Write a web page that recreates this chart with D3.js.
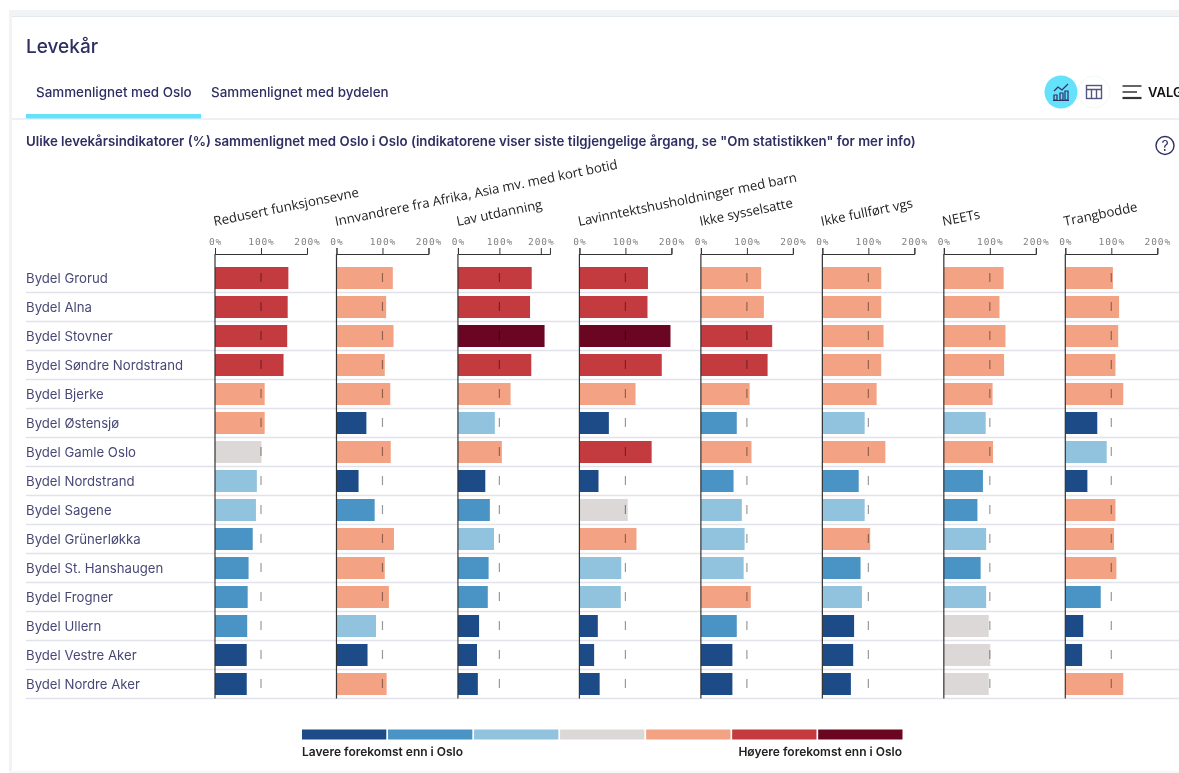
<!DOCTYPE html>
<html>
<head>
<meta charset="utf-8">
<script src="https://cdn.jsdelivr.net/npm/d3@7"></script>
<style>
    html, body { margin: 0; padding: 0; background: #fff; overflow: hidden; }
    svg { display: block; filter: blur(0.35px); }
    .ui { font-family: "Inter", sans-serif; fill: #2e2e62; }
    .indicator { font-family: "Open Sans", sans-serif; font-size: 13.2px; fill: #222; }
    .axis text { font-family: "DejaVu Sans Mono", monospace; font-size: 9.5px; fill: #808080; letter-spacing: 0.9px; }
    .axis path, .axis line { stroke: #333; }
</style>
</head>
<body>
<div id="chart"></div>
<script>
const districts = ["Bydel Grorud", "Bydel Alna", "Bydel Stovner", "Bydel Søndre Nordstrand", "Bydel Bjerke",
    "Bydel Østensjø", "Bydel Gamle Oslo", "Bydel Nordstrand", "Bydel Sagene", "Bydel Grünerløkka",
    "Bydel St. Hanshaugen", "Bydel Frogner", "Bydel Ullern", "Bydel Vestre Aker", "Bydel Nordre Aker"];

const indicators = ["Redusert funksjonsevne", "Innvandrere fra Afrika, Asia mv. med kort botid", "Lav utdanning",
    "Lavinntektshusholdninger med barn", "Ikke sysselsatte", "Ikke fullført vgs", "NEETs", "Trangbodde"];

const tickValues = [0, 100, 200];

// each panel is 200% wide except Lav utdanning, which runs a bit past
const axisMax = [200, 200, 222, 200, 200, 200, 200, 200];

const values = [
    [159.5, 158, 157, 149, 108, 108, 101, 91, 89, 82, 73, 71, 70, 69, 69],
    [122.5, 108, 124, 105, 117, 65, 118, 48, 83, 125, 105, 114, 86, 67.5, 109],
    [178, 174, 209, 177, 127, 89, 106, 66, 77, 87, 74, 72, 51, 46, 48],
    [149, 148, 198, 179, 122, 64, 157, 41.5, 105, 124, 91, 90, 40, 32, 44],
    [131, 137, 155, 145, 106, 78, 110, 71, 89, 95, 93, 108.5, 78, 68.5, 68.5],
    [128, 128, 133, 128, 118, 92, 137, 79, 92, 104, 83, 86, 69, 67, 62],
    [130, 121, 134, 131, 106, 91, 107, 85, 73, 92, 80, 92, 97.5, 101, 97.5],
    [103.5, 117, 115, 109, 126, 69.5, 90, 48, 109, 106, 111, 77, 39, 36.5, 126]
];

// colour class per bar, 0 = much lower than Oslo, 6 = much higher
const classes = [
    [5, 5, 5, 5, 4, 4, 3, 2, 2, 1, 1, 1, 1, 0, 0],
    [4, 4, 4, 4, 4, 0, 4, 0, 1, 4, 4, 4, 2, 0, 4],
    [5, 5, 6, 5, 4, 2, 4, 0, 1, 2, 1, 1, 0, 0, 0],
    [5, 5, 6, 5, 4, 0, 5, 0, 3, 4, 2, 2, 0, 0, 0],
    [4, 4, 5, 5, 4, 1, 4, 1, 2, 2, 2, 4, 1, 0, 0],
    [4, 4, 4, 4, 4, 2, 4, 1, 2, 4, 1, 2, 0, 0, 0],
    [4, 4, 4, 4, 4, 2, 4, 1, 1, 2, 1, 2, 3, 3, 3],
    [4, 4, 4, 4, 4, 0, 2, 0, 4, 4, 4, 1, 0, 0, 4]
];

const palette = ["#1c4b87", "#4a93c5", "#91c3df", "#dbd8d7", "#f3a384", "#c33b3e", "#6a0622"];
const legendLabels = ["Lavere forekomst enn i Oslo", "Høyere forekomst enn i Oslo"];

const width = 1179, height = 773;

const svg = d3.select('#chart')
    .append('svg')
    .attr('width', width)
    .attr('height', height);

// page chrome
svg.append('rect').attr('x', 9).attr('y', 10).attr('width', width).attr('height', 6).attr('fill', '#f2f3f5');
svg.append('rect').attr('x', 9).attr('y', 10).attr('width', 3).attr('height', height).attr('fill', '#f2f3f5');
svg.append('rect').attr('x', 12).attr('y', 16).attr('width', width).attr('height', 1).attr('fill', '#e4e9ee');
svg.append('rect').attr('x', 9).attr('y', 771).attr('width', width).attr('height', 2).attr('fill', '#f6f7f8');

svg.append('text').attr('class', 'ui').attr('x', 26).attr('y', 53)
    .attr('font-size', 19).attr('font-weight', 500).text('Levekår');

svg.append('text').attr('class', 'ui').attr('x', 36).attr('y', 97)
    .attr('font-size', 13.4).attr('font-weight', 500).text('Sammenlignet med Oslo');
svg.append('text').attr('class', 'ui').attr('x', 211).attr('y', 97)
    .attr('font-size', 13.4).attr('font-weight', 500).text('Sammenlignet med bydelen');

svg.append('rect').attr('x', 12).attr('y', 118).attr('width', width).attr('height', 2).attr('fill', '#eef1f3');
svg.append('rect').attr('x', 26).attr('y', 114).attr('width', 175).attr('height', 4.5).attr('fill', '#64e1fb');

svg.append('text').attr('class', 'ui').attr('x', 26).attr('y', 146)
    .attr('font-size', 13.25).attr('font-weight', 600)
    .text('Ulike levekårsindikatorer (%) sammenlignet med Oslo i Oslo (indikatorene viser siste tilgjengelige årgang, se "Om statistikken" for mer info)');

// view switch icons
svg.append('circle').attr('cx', 1061).attr('cy', 92).attr('r', 16.5).attr('fill', '#64e1fb');
svg.append('circle').attr('cx', 1094).attr('cy', 92).attr('r', 16).attr('fill', 'none').attr('stroke', '#f0f8fb');
const chartIcon = svg.append('g').attr('transform', 'translate(1061, 92)')
    .attr('fill', 'none').attr('stroke', '#2e2e62').attr('stroke-width', 1.2);
chartIcon.append('path').attr('d', 'M-7 -1L-3 -5L1 -2L7 -8');
chartIcon.append('path').attr('d', 'M-7 3h3v5h-3zM-1 1h3v7h-3zM4 -1h3v9h-3zM-8 8.5h16');

const tableIcon = svg.append('g').attr('transform', 'translate(1094, 92)')
    .attr('fill', 'none').attr('stroke', '#55557f').attr('stroke-width', 1.4);
tableIcon.append('rect').attr('x', -7.5).attr('y', -6.5).attr('width', 15).attr('height', 13);
tableIcon.append('path').attr('d', 'M-7.5 -2.5H7.5M-2.5 -2.5V6.5M2.5 -2.5V6.5');

svg.append('path').attr('d', 'M1122.5 86H1141.5M1122.5 92H1137')
    .attr('stroke', '#333').attr('stroke-width', 1.6);
svg.append('path').attr('d', 'M1122.5 98H1141.5')
    .attr('stroke', '#333').attr('stroke-width', 2.2);
svg.append('text').attr('x', 1148).attr('y', 97).attr('font-family', 'Inter, sans-serif')
    .attr('font-size', 13).attr('font-weight', 600).attr('fill', '#111').text('VALG');

svg.append('circle').attr('cx', 1165).attr('cy', 145.5).attr('r', 9)
    .attr('fill', 'none').attr('stroke', '#2e2e62').attr('stroke-width', 1.4);
svg.append('text').attr('class', 'ui').attr('x', 1165).attr('y', 150.5).attr('text-anchor', 'middle')
    .attr('font-size', 14).text('?');

// rows
const y = d3.scaleBand()
    .domain(districts)
    .range([263.5, 698.5])
    .paddingInner(7 / 29)
    .paddingOuter(3.5 / 29);

const rowLines = d3.range(districts.length);
svg.append('g').selectAll('line')
    .data(rowLines)
    .enter()
    .append('line')
    .attr('x1', 26)
    .attr('x2', width)
    .attr('y1', i => 263.5 + y.step() * (i + 1))
    .attr('y2', i => 263.5 + y.step() * (i + 1))
    .attr('stroke', '#e2e2ea')
    .attr('stroke-width', 1.3);

svg.append('g').selectAll('text')
    .data(districts)
    .enter()
    .append('text')
    .attr('class', 'ui')
    .attr('x', 26)
    .attr('y', d => y(d) + y.bandwidth() / 2 + 5)
    .attr('font-size', 13.2)
    .attr('fill-opacity', 0.88)
    .text(d => d);

// panels
const panelX = d3.scalePoint()
    .domain(indicators)
    .range([215, 1065.3]);
const panelWidth = 92;

indicators.forEach((name, p) => {
    const x0 = panelX(name);
    const x = d3.scaleLinear().domain([0, axisMax[p]]).range([0, panelWidth]);
    const panel = svg.append('g').attr('transform', `translate(${ x0 }, 0)`);

    panel.append('g')
        .selectAll('rect')
        .data(values[p])
        .enter()
        .append('rect')
        .attr('x', 0)
        .attr('y', (d, i) => y(districts[i]))
        .attr('width', d => x(d))
        .attr('height', y.bandwidth())
        .attr('fill', (d, i) => palette[classes[p][i]]);

    // Oslo = 100% reference marks
    panel.append('g')
        .selectAll('line')
        .data(districts)
        .enter()
        .append('line')
        .attr('x1', x(100))
        .attr('x2', x(100))
        .attr('y1', d => y(d) + 6)
        .attr('y2', d => y(d) + 15)
        .attr('stroke', '#000')
        .attr('stroke-opacity', 0.4)
        .attr('stroke-width', 1.2);

    panel.append('line')
        .attr('x1', 0).attr('x2', 0)
        .attr('y1', 254).attr('y2', 698.5)
        .attr('stroke', '#333')
        .attr('stroke-width', 1.2);

    panel.append('g')
        .attr('class', 'axis')
        .attr('transform', 'translate(0, 254)')
        .call(d3.axisTop(x).tickValues(tickValues).tickFormat(d => d + '%').tickSize(6))
        .call(g => g.selectAll('text').attr('y', -9));

    svg.append('text')
        .attr('class', 'indicator')
        .attr('transform', `translate(${ x0 - 0.5 }, 226) rotate(-11.5)`)
        .text(name);
});

// legend
const legendX = d3.scaleBand()
    .domain(d3.range(palette.length))
    .range([302, 902.5])
    .paddingInner(0.02);

svg.append('g').selectAll('rect')
    .data(palette)
    .enter()
    .append('rect')
    .attr('x', (d, i) => legendX(i))
    .attr('y', 729.5)
    .attr('width', legendX.bandwidth())
    .attr('height', 10)
    .attr('fill', d => d);

svg.append('text').attr('x', 302).attr('y', 756)
    .attr('font-family', 'Inter, sans-serif').attr('font-size', 12).attr('font-weight', 600)
    .attr('fill', '#222').text(legendLabels[0]);
svg.append('text').attr('x', 902).attr('y', 756).attr('text-anchor', 'end')
    .attr('font-family', 'Inter, sans-serif').attr('font-size', 12).attr('font-weight', 600)
    .attr('fill', '#222').text(legendLabels[1]);
</script>
</body>
</html>
